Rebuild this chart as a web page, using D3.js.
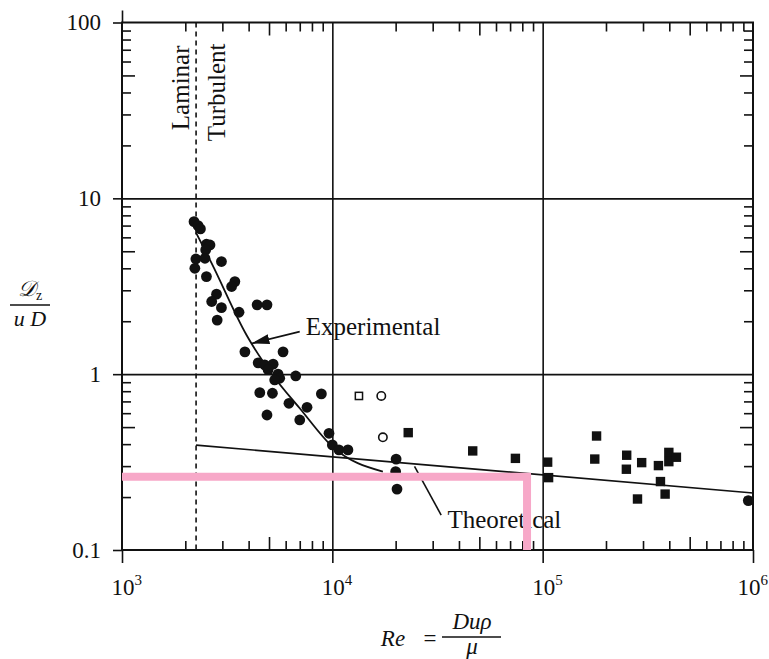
<!DOCTYPE html>
<html><head><meta charset="utf-8">
<script src="https://cdn.jsdelivr.net/npm/d3@7"></script>
<style>body{margin:0;background:#fff}</style>
</head><body>
<svg id="c" width="769" height="659"></svg>
<script>
// ---- data ----
const xDomain = [1e3, 1e6];
const yDomain = [0.1, 100];
const xMajor = [1e3, 1e4, 1e5, 1e6];
const xTickExponents = ["3", "4", "5", "6"];
const yMajor = [0.1, 1, 10, 100];
const yTickLabels = ["0.1", "1", "10", "100"];
const filledCircles = [
  [2200,7.37],[2300,6.99],[2360,6.70],[2520,5.48],[2620,5.43],[2500,5.09],[2245,4.52],[2480,4.56],
  [2220,4.00],[2970,4.37],[2520,3.59],[3440,3.36],[3320,3.15],[2815,2.85],[2670,2.59],[2970,2.39],
  [3600,2.25],[2835,2.03],[4390,2.48],[4890,2.48],[3840,1.34],[5830,1.34],[4440,1.16],[4770,1.13],
  [5230,1.14],[4950,1.06],[5520,1.00],[5620,0.948],[5320,0.927],[6700,0.977],[4520,0.785],[5190,0.779],
  [8870,0.772],[6220,0.683],[7580,0.648],[4890,0.586],[7000,0.549],[9640,0.461],[10000,0.396],
  [10750,0.371],[11860,0.371],[20100,0.329],[20000,0.279],[20300,0.222],[950000,0.191]
];
const filledSquares = [
  [22950,0.465],[46500,0.366],[74200,0.332],[105600,0.316],[106700,0.258],[180400,0.445],[176900,0.329],
  [250900,0.346],[250000,0.288],[295600,0.314],[282400,0.195],[355100,0.302],[363100,0.245],
  [382100,0.208],[398000,0.359],[398000,0.318],[432400,0.337]
];
const openSquares = [[13380,0.752]];
const openCircles = [[17090,0.752],[17390,0.4375]];
const experimentalCurve = [[2245,6.41],[2666,4.28],[3908,1.67],[4127,1.494],[5208,0.987],[6998,0.64],[10030,0.386],[17390,0.279]];
const theoreticalLine = [[2250,0.395],[1e6,0.211]];
const transitionRe = 2250;
const experimentalArrow = [[6997,1.745],[4127,1.494]];
const theoreticalLeader = [[24590,0.2985],[32920,0.158]];
const experimentalLabelAt = [7470, 1.67];
const theoreticalLabelAt = [35280, 0.1334];
const highlightPath = [[1e3,0.261],[84270,0.261],[84270,0.1]];

// ---- drawing ----
const serif = '"Liberation Serif","Times New Roman",serif';
const ink = "#111";
const svg = d3.select("#c");
const L = 122, R = 753, T = 22.5, B = 550;
const x = d3.scaleLog().domain(xDomain).range([L, R]);
const y = d3.scaleLog().domain(yDomain).range([B, T]);

const isMajor = v => Math.abs(Math.log10(v) - Math.round(Math.log10(v))) < 1e-9;
const mant = v => Math.round(v / Math.pow(10, Math.floor(Math.log10(v) + 1e-9)));
const xMinor = x.ticks().filter(v => !isMajor(v));
const yMinor = y.ticks().filter(v => !isMajor(v));

function style(g){ g.select(".domain").remove(); g.selectAll(".tick line").attr("stroke", ink).attr("stroke-width", 1.6); }

// grid lines
svg.append("g").attr("transform", `translate(0,${B})`)
  .call(d3.axisBottom(x).tickValues([1e4,1e5]).tickSize(-(B-T)).tickFormat(""))
  .call(style);
svg.append("g").attr("transform", `translate(${L},0)`)
  .call(d3.axisLeft(y).tickValues([1,10]).tickSize(-(R-L)).tickFormat(""))
  .call(style);

// minor ticks (inward)
function minorLen(v){ return mant(v) === 5 ? 13 : 9; }
svg.append("g").attr("transform", `translate(0,${B})`)
  .call(d3.axisBottom(x).tickValues(xMinor).tickSizeOuter(0).tickFormat(""))
  .call(style).selectAll(".tick line").attr("y2", d => -minorLen(d));
svg.append("g").attr("transform", `translate(0,${T})`)
  .call(d3.axisTop(x).tickValues(xMinor).tickSizeOuter(0).tickFormat(""))
  .call(style).selectAll(".tick line").attr("y2", d => minorLen(d));
svg.append("g").attr("transform", `translate(${L},0)`)
  .call(d3.axisLeft(y).tickValues(yMinor).tickSizeOuter(0).tickFormat(""))
  .call(style).selectAll(".tick line").attr("x2", d => minorLen(d));
svg.append("g").attr("transform", `translate(${R},0)`)
  .call(d3.axisRight(y).tickValues(yMinor).tickSizeOuter(0).tickFormat(""))
  .call(style).selectAll(".tick line").attr("x2", d => -minorLen(d));

// major ticks outward + labels
const xAxisG = svg.append("g").attr("transform", `translate(0,${B})`)
  .call(d3.axisBottom(x).tickValues(xMajor).tickSize(13).tickSizeOuter(0).tickFormat(""))
  .call(style);
xAxisG.selectAll(".tick").append("text")
  .attr("x", (d, i) => i === xMajor.length - 1 ? -16 : -11).attr("y", 45).attr("fill", ink)
  .style("font-family", serif).style("font-size", "23px").attr("text-anchor", "start")
  .text("10")
  .append("tspan").attr("dy", -10).style("font-size", "15px")
  .text((d, i) => xTickExponents[i]);
svg.append("g").attr("transform", `translate(0,${T})`)
  .call(d3.axisTop(x).tickValues([1e3]).tickSize(12).tickSizeOuter(0).tickFormat(""))
  .call(style);
const yAxisG = svg.append("g").attr("transform", `translate(${L},0)`)
  .call(d3.axisLeft(y).tickValues(yMajor).tickSize(9).tickPadding(12).tickSizeOuter(0)
    .tickFormat((d, i) => yTickLabels[i]))
  .call(style);
yAxisG.selectAll(".tick text").attr("fill", ink).style("font-family", serif).style("font-size", "23px");

// frame
svg.append("rect").attr("x", L).attr("y", T).attr("width", R - L).attr("height", B - T)
  .attr("fill", "none").attr("stroke", ink).attr("stroke-width", 2);

// transition dashed line
svg.append("line").attr("x1", x(transitionRe)).attr("x2", x(transitionRe))
  .attr("y1", T).attr("y2", B).attr("stroke", ink).attr("stroke-width", 1.6)
  .attr("stroke-dasharray", "5,4");
svg.append("text").attr("transform", `translate(${x(transitionRe)-7},${T+23}) rotate(-90)`)
  .attr("text-anchor", "end").attr("fill", ink).style("font-family", serif).style("font-size", "25px")
  .text("Laminar");
svg.append("text").attr("transform", `translate(${x(transitionRe)+29},${T+21}) rotate(-90)`)
  .attr("text-anchor", "end").attr("fill", ink).style("font-family", serif).style("font-size", "25px")
  .text("Turbulent");

// lines
const line = d3.line().x(d => x(d[0])).y(d => y(d[1]));
svg.append("path").datum(theoreticalLine).attr("d", line)
  .attr("fill", "none").attr("stroke", ink).attr("stroke-width", 1.6);
svg.append("path").datum(experimentalCurve).attr("d", line.curve(d3.curveMonotoneX))
  .attr("fill", "none").attr("stroke", ink).attr("stroke-width", 1.8);
line.curve(d3.curveLinear);

// points
svg.append("g").selectAll("circle").data(filledCircles).join("circle")
  .attr("cx", d => x(d[0])).attr("cy", d => y(d[1])).attr("r", 5.4).attr("fill", ink);
svg.append("g").selectAll("rect").data(filledSquares).join("rect")
  .attr("x", d => x(d[0]) - 4.7).attr("y", d => y(d[1]) - 4.7).attr("width", 9.4).attr("height", 9.4).attr("fill", ink);
svg.append("g").selectAll("rect").data(openSquares).join("rect")
  .attr("x", d => x(d[0]) - 3.6).attr("y", d => y(d[1]) - 3.6).attr("width", 7.2).attr("height", 7.2)
  .attr("fill", "#fff").attr("stroke", ink).attr("stroke-width", 1.5);
svg.append("g").selectAll("circle").data(openCircles).join("circle")
  .attr("cx", d => x(d[0])).attr("cy", d => y(d[1])).attr("r", 4.2)
  .attr("fill", "#fff").attr("stroke", ink).attr("stroke-width", 1.6);

// annotations
svg.append("defs").append("marker").attr("id", "ah").attr("markerUnits", "userSpaceOnUse")
  .attr("markerWidth", 20).attr("markerHeight", 12).attr("refX", 18).attr("refY", 5)
  .attr("orient", "auto").append("path").attr("d", "M0,0 L18,5 L0,10 Z").attr("fill", ink);
svg.append("path").datum(experimentalArrow).attr("d", line)
  .attr("stroke", ink).attr("stroke-width", 1.6).attr("marker-end", "url(#ah)");
svg.append("path").datum(theoreticalLeader).attr("d", line)
  .attr("stroke", ink).attr("stroke-width", 1.6);
svg.append("text").attr("x", x(experimentalLabelAt[0])).attr("y", y(experimentalLabelAt[1]))
  .attr("fill", ink).style("font-family", serif).style("font-size", "25px").text("Experimental");
svg.append("text").attr("x", x(theoreticalLabelAt[0])).attr("y", y(theoreticalLabelAt[1]))
  .attr("fill", ink).style("font-family", serif).style("font-size", "25px").text("Theoretical");

// axis titles
const yt = svg.append("g").attr("fill", ink).style("font-family", serif).style("font-style", "italic").style("font-size", "22px");
const num = yt.append("text").attr("x", 30).attr("y", 296).attr("text-anchor", "middle");
num.append("tspan").text("𝒟");
num.append("tspan").attr("dy", 4).style("font-size", "14px").style("font-style", "normal").text("z");
yt.append("line").attr("x1", 10).attr("x2", 50).attr("y1", 305).attr("y2", 305).attr("stroke", ink).attr("stroke-width", 1.6);
yt.append("text").attr("x", 30).attr("y", 326).attr("text-anchor", "middle").text("u D");

const xt = svg.append("g").attr("fill", ink).style("font-family", serif).style("font-size", "23px");
xt.append("text").attr("x", 393).attr("y", 646).attr("text-anchor", "middle").style("font-style", "italic").text("Re");
xt.append("text").attr("x", 430).attr("y", 646).attr("text-anchor", "middle").text("=");
xt.append("text").attr("x", 472).attr("y", 629).attr("text-anchor", "middle").style("font-style", "italic").text("Duρ");
xt.append("line").attr("x1", 442).attr("x2", 501).attr("y1", 637).attr("y2", 637).attr("stroke", ink).attr("stroke-width", 1.4);
xt.append("text").attr("x", 472).attr("y", 654).attr("text-anchor", "middle").style("font-style", "italic").text("μ");

// highlight overlay
svg.append("path").datum(highlightPath).attr("d", line)
  .attr("fill", "none").attr("stroke", "#f7a8c8").attr("stroke-width", 8).attr("stroke-linejoin", "miter");
</script>
</body></html>
